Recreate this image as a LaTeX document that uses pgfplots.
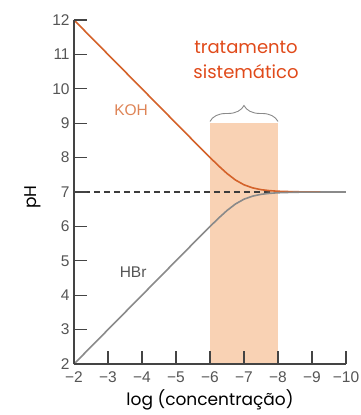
\documentclass[border=0pt]{standalone}
\usepackage{fontspec}
\setmainfont{Liberation Sans}
\newfontfamily\comic{Poppins}
\usepackage{pgfplots}
\pgfplotsset{compat=1.18}
\usetikzlibrary{decorations.pathreplacing}
\definecolor{kohline}{HTML}{D4622A}
\definecolor{kohtext}{HTML}{DE8456}
\definecolor{hbrline}{HTML}{8A8A8A}
\definecolor{dashc}{HTML}{3C3C3C}
\definecolor{rectc}{HTML}{F9D2B4}
\definecolor{axisc}{HTML}{444444}
\definecolor{tickc}{HTML}{555555}
\definecolor{trat}{HTML}{E04A1A}
\pgfplotstableread{
x y
-2 12
-3 11
-4 10
-5 9.000
-5.5 8.500
-5.75 8.251
-6 8.004
-6.25 7.763
-6.5 7.538
-6.75 7.348
-7 7.209
-7.25 7.121
-7.5 7.068
-7.75 7.039
-8 7.022
-8.5 7.007
-9 7.002
-10 7.000
}\kohdata
\pgfplotstableread{
x y
-2 2
-3 3
-4 4
-5 5.000
-5.5 5.500
-5.75 5.749
-6 5.996
-6.25 6.237
-6.5 6.462
-6.75 6.652
-7 6.791
-7.25 6.879
-7.5 6.932
-7.75 6.961
-8 6.978
-8.5 6.993
-9 6.998
-10 7.000
}\hbrdata
\begin{document}
\begin{tikzpicture}
\useasboundingbox (-74bp,-51bp) rectangle (287bp,364bp);
\begin{axis}[
  at={(0,0)}, anchor=south west,
  scale only axis, width=272bp, height=344bp,
  xmin=-10, xmax=-2, ymin=2, ymax=12,
  x dir=reverse,
  axis x line=bottom, axis y line=left,
  axis line style={draw=axisc, line width=1.6bp, -},
  xtick={-2,-3,-4,-5,-6,-7,-8,-9,-10},
  xticklabels={−2,−3,−4,−5,−6,−7,−8,−9,−10},
  ytick={2,3,...,12},
  yticklabels={2,3,4,5,6,7,8,9,10,11,12},
  tick align=inside,
  major tick length=13bp,
  tick style={draw=axisc, line width=1.3bp},
  tick label style={font=\fontsize{15.5bp}{17bp}\selectfont, text=tickc, inner sep=1bp},
  xticklabel style={yshift=-6.7bp},
  yticklabel style={xshift=-3.2bp},
  xlabel={log (concentração)},
  xlabel style={at={(rel axis cs:0.5,0)}, anchor=center, yshift=-36bp, font=\comic\fontsize{17bp}{20bp}\selectfont},
  ylabel={pH},
  ylabel style={at={([xshift=-41bp]rel axis cs:0,0.485)}, anchor=center, font=\comic\fontsize{17bp}{20bp}\selectfont},
  axis on top,
  clip=false,
]
\addplot[fill=rectc, draw=none] coordinates {(-6,2) (-6,9) (-8,9) (-8,2)} -- cycle;
\addplot[dashc, line width=1.6bp, dash pattern=on 6.5bp off 3.5bp] coordinates {(-2,7) (-10,7)};
\addplot[kohline, line width=1.6bp] table[x=x,y=y] {\kohdata};
\addplot[hbrline, line width=1.6bp] table[x=x,y=y] {\hbrdata};
\node[text=kohtext, font=\fontsize{15.5bp}{17bp}\selectfont] at (axis cs:-3.68,9.38) {KOH};
\node[text=tickc, font=\fontsize{15.5bp}{17bp}\selectfont] at (axis cs:-3.74,4.67) {HBr};
\draw[draw=hbrline, line width=0.9bp, decorate, decoration={brace, amplitude=16bp, aspect=0.5}] (axis cs:-6,9.05) -- (axis cs:-8,9.05);
\node[text=trat, font=\comic\fontsize{18bp}{22bp}\selectfont] at (axis cs:-7.06,11.19) {tratamento};
\node[text=trat, font=\comic\fontsize{18bp}{22bp}\selectfont] at (axis cs:-7.06,10.49) {sistemático};
\end{axis}
\end{tikzpicture}
\end{document}
